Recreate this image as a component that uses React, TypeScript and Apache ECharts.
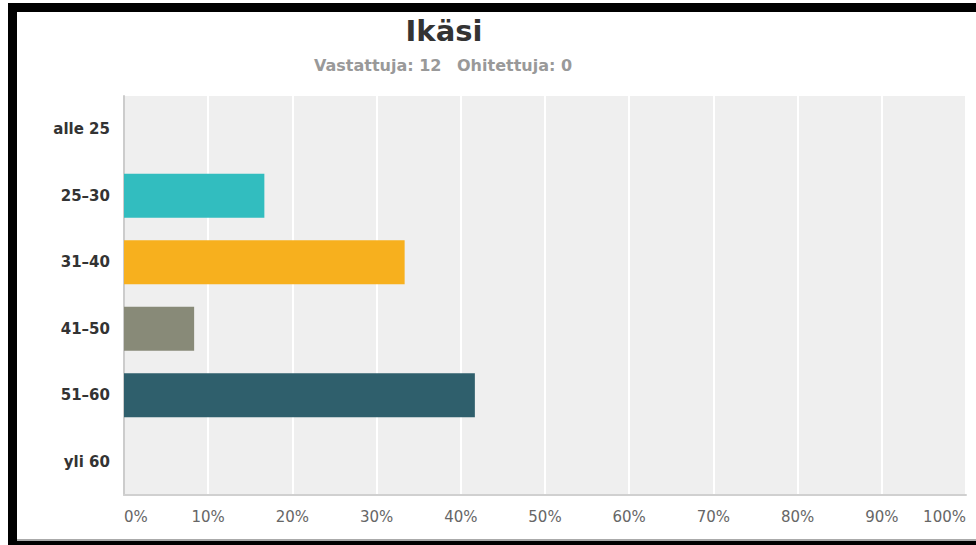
import React, { useEffect, useRef } from "react";
import * as echarts from "echarts";

const categories = ["alle 25", "25–30", "31–40", "41–50", "51–60", "yli 60"];
const percentValues = [0, 16.67, 33.33, 8.33, 41.67, 0];
const barColors = ["#32bdbf", "#32bdbf", "#f7b01e", "#888a78", "#2f5f6c", "#2f5f6c"];
const tickValues = [0, 10, 20, 30, 40, 50, 60, 70, 80, 90, 100];
const titleText = "Ikäsi";
const answeredText = "Vastattuja: 12";
const skippedText = "Ohitettuja: 0";

const FONT = "'DejaVu Sans', Verdana, sans-serif";

export default function App() {
  const ref = useRef<HTMLDivElement>(null);
  useEffect(() => {
    if (!ref.current) return;
    const chart = echarts.init(ref.current, undefined, { renderer: "svg" });
    chart.setOption({
      animation: false,
      backgroundColor: "#ffffff",
      grid: {
        left: 124,
        top: 96,
        width: 842,
        height: 399,
        show: true,
        backgroundColor: "#efefef",
        borderWidth: 0,
      },
      xAxis: {
        type: "value",
        min: tickValues[0],
        max: tickValues[tickValues.length - 1],
        interval: 10,
        axisLine: { show: true, lineStyle: { color: "#d0d0d0", width: 2 } },
        axisTick: { show: false },
        splitLine: { show: true, lineStyle: { color: "#ffffff", width: 2 } },
        axisLabel: {
          formatter: "{value}%",
          color: "#666666",
          fontFamily: FONT,
          fontSize: 15,
          margin: 14,
          alignMinLabel: "left",
          alignMaxLabel: "right",
        },
      },
      yAxis: {
        type: "category",
        data: categories,
        inverse: true,
        axisLine: { show: true, lineStyle: { color: "#cccccc", width: 2 } },
        axisTick: { show: false },
        splitLine: { show: false },
        axisLabel: {
          color: "#333333",
          fontFamily: FONT,
          fontWeight: "bold",
          fontSize: 15,
          margin: 14,
        },
      },
      series: [
        {
          type: "bar",
          barWidth: 44,
          data: percentValues.map((v, i) => ({
            value: v,
            itemStyle: { color: barColors[i] },
          })),
        },
      ],
      graphic: [
        {
          type: "text",
          x: 444,
          y: 31,
          style: {
            text: titleText,
            fill: "#333333",
            font: `bold 29px ${FONT}`,
            textAlign: "center",
            textVerticalAlign: "middle",
          },
        },
        {
          type: "text",
          x: 314,
          y: 65,
          style: {
            text: answeredText,
            fill: "#999999",
            font: `bold 16px ${FONT}`,
            textAlign: "left",
            textVerticalAlign: "middle",
          },
        },
        {
          type: "text",
          x: 457,
          y: 65,
          style: {
            text: skippedText,
            fill: "#999999",
            font: `bold 16px ${FONT}`,
            textAlign: "left",
            textVerticalAlign: "middle",
          },
        },
        { type: "rect", shape: { x: 8, y: 3, width: 968, height: 9 }, style: { fill: "#000000" } },
        { type: "rect", shape: { x: 8, y: 3, width: 9, height: 542 }, style: { fill: "#000000" } },
        { type: "rect", shape: { x: 17, y: 539, width: 959, height: 2 }, style: { fill: "#aaaaaa" } },
        { type: "rect", shape: { x: 8, y: 541, width: 968, height: 4 }, style: { fill: "#000000" } },
      ],
    });
    return () => chart.dispose();
  }, []);
  return (
    <div
      ref={ref}
      style={{ position: "fixed", left: 0, top: 0, width: 976, height: 545 }}
    />
  );
}
